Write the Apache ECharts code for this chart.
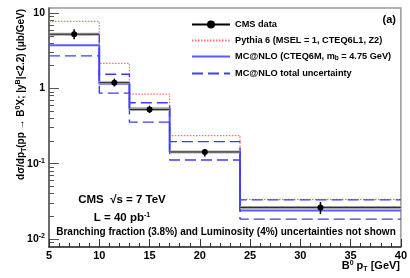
<!DOCTYPE html>
<html><head><meta charset="utf-8">
<script src="https://cdn.jsdelivr.net/npm/echarts@6/dist/echarts.min.js"></script>
<style>html,body{margin:0;padding:0;background:#fff}#c{width:410px;height:278px}</style>
</head><body><div id="c"></div>
<script>
const binEdges = [5, 10, 13, 17, 24, 40];
const dataX = [7.5, 11.5, 15.0, 20.5, 32.0];
const dataY = [5.25, 1.19, 0.525, 0.143, 0.0262];
const dataLow = [4.5, 1.06, 0.47, 0.124, 0.0213];
const dataHigh = [6.1, 1.35, 0.59, 0.157, 0.0309];
const pythia = [7.75, 2.15, 0.84, 0.236, 0.0334];
const mcnlo = [3.74, 1.15, 0.54, 0.143, 0.0239];
const mcnloUp = [5.2, 1.54, 0.645, 0.196, 0.033];
const mcnloDown = [2.7, 0.865, 0.356, 0.112, 0.0183];
const yTickValues = [0.01, 0.1, 1, 10];
const yTickLabels = ['10{sup|-2}', '10{sup|-1}', '1', '10'];
const yRange = [0.0078, 11.7];
const xRange = [5, 40];

const F = '"Liberation Sans", Arial, sans-serif';
const L = v => Math.log10(v);
const names = {
  data: 'CMS data',
  py: 'Pythia 6 (MSEL = 1, CTEQ6L1, Z2)',
  mc: 'MC@NLO (CTEQ6M, m_b = 4.75 GeV)',
  unc: 'MC@NLO total uncertainty'
};
const CLEAR = 'rgba(0,0,0,0)';
function hist(vals) {
  return binEdges.map((x, i) => [x, L(vals[Math.min(i, vals.length - 1)])]);
}
const minorTicks = [];
for (let e = -3; e <= 1; e++) for (let k = 2; k <= 9; k++) {
  const v = k * Math.pow(10, e);
  if (v > yRange[0] && v < yRange[1]) minorTicks.push(L(v));
}
const majorTicks = yTickValues.map(L);
const customData = dataX.map((x, i) => [x, L(dataY[i]), L(dataLow[i]), L(dataHigh[i]), binEdges[i], binEdges[i + 1]]);

const chart = echarts.init(document.getElementById('c'), null, {renderer: 'canvas'});
const supStyle = {fontSize: 7, fontWeight: 'bold', fontFamily: F, color: '#000', padding: [0, 0, 6, 0]};
const subStyle = {fontSize: 7, fontWeight: 'bold', fontFamily: F, color: '#000', padding: [6, 0, 0, 0]};
const legSub = {fontSize: 6.5, fontWeight: 'bold', fontFamily: F, color: '#000', padding: [4, 0, 0, 0]};
function histSeries(name, vals, color, width, type) {
  return {name, type: 'line', step: 'end', data: hist(vals), symbol: 'circle', showSymbol: false,
    lineStyle: {color, width, type}, itemStyle: {color: CLEAR, borderWidth: 0}, emphasis: {disabled: true}};
}
chart.setOption({
  animation: false,
  grid: {left: 49, right: 9, top: 8, bottom: 31, show: true, borderColor: '#999', borderWidth: 1.5, backgroundColor: 'transparent'},
  xAxis: {
    type: 'value', min: xRange[0], max: xRange[1], interval: 5,
    axisLine: {onZero: false, lineStyle: {color: '#333', width: 1.5}},
    axisTick: {inside: true, length: 8, lineStyle: {color: '#333'}},
    minorTick: {show: true, splitNumber: 5, length: 4, lineStyle: {color: '#333'}},
    splitLine: {show: false},
    axisLabel: {color: '#000', fontFamily: F, fontWeight: 'bold', fontSize: 11, margin: 3}
  },
  yAxis: [{
    type: 'value', min: L(yRange[0]), max: L(yRange[1]),
    axisLine: {show: true, onZero: false, lineStyle: {color: '#555', width: 1.5}},
    axisTick: {inside: true, length: 10, customValues: majorTicks, lineStyle: {color: '#555'}},
    splitLine: {show: false},
    axisLabel: {
      customValues: majorTicks, color: '#000', fontFamily: F, fontWeight: 'bold', fontSize: 10.5, margin: 4,
      formatter: v => { const i = majorTicks.findIndex(t => Math.abs(t - v) < 1e-6); return i >= 0 ? yTickLabels[i] : ''; },
      rich: {sup: supStyle}
    }
  }, {
    type: 'value', min: L(yRange[0]), max: L(yRange[1]), position: 'left', offset: 0,
    axisLine: {show: false},
    axisTick: {inside: true, length: 5, customValues: minorTicks, lineStyle: {color: '#555'}},
    axisLabel: {show: false}, splitLine: {show: false}
  }],
  legend: {
    orient: 'vertical', left: 186, top: 15, itemWidth: 38, itemHeight: 10, itemGap: 7,
    data: [names.data, names.py, names.mc, names.unc],
    textStyle: {color: '#000', fontFamily: F, fontWeight: 'bold', fontSize: 9.2, rich: {sub: legSub}},
    formatter: n => n === names.mc ? 'MC@NLO (CTEQ6M, m{sub|b} = 4.75 GeV)' : n
  },
  series: [
    {name: names.data, type: 'line', data: [], symbol: 'circle', symbolSize: 6,
     itemStyle: {color: '#000'}, lineStyle: {color: '#000', width: 1}},
    histSeries(names.py, pythia, '#ff7070', 1.2, [1.5, 1.5]),
    histSeries(names.mc, mcnlo, '#5a5aff', 2, 'solid'),
    histSeries(names.unc, mcnloUp, '#3c3cf5', 1.4, [11, 5]),
    histSeries(names.unc, mcnloDown, '#3c3cf5', 1.4, [11, 5]),
    {name: 'CMS data points', type: 'custom', z: 5, data: customData,
     renderItem: (params, api) => {
       const c = api.coord([api.value(0), api.value(1)]);
       const lo = api.coord([api.value(0), api.value(2)]);
       const hi = api.coord([api.value(0), api.value(3)]);
       const l = api.coord([api.value(4), api.value(1)]);
       const r = api.coord([api.value(5), api.value(1)]);
       return {type: 'group', children: [
         {type: 'line', shape: {x1: l[0], y1: l[1], x2: r[0], y2: r[1]}, style: {stroke: '#aaa', lineWidth: 3}},
         {type: 'line', shape: {x1: l[0], y1: l[1], x2: r[0], y2: r[1]}, style: {stroke: '#222', lineWidth: 1}},
         {type: 'line', shape: {x1: lo[0], y1: lo[1], x2: hi[0], y2: hi[1]}, style: {stroke: '#000', lineWidth: 1.5}},
         {type: 'circle', shape: {cx: c[0], cy: c[1], r: 3}, style: {fill: '#000'}}
       ]};
     }}
  ],
  graphic: [
    {type: 'text', x: 396, y: 20, style: {text: '(a)', fill: '#000', font: 'bold 11px ' + F, textAlign: 'right', textVerticalAlign: 'middle'}},
    {type: 'text', x: 122, y: 200, style: {text: 'CMS  \u221As = 7 TeV', fill: '#000', font: 'bold 11.5px ' + F, textAlign: 'center', textVerticalAlign: 'middle'}},
    {type: 'text', x: 122, y: 218, style: {text: 'L = 40 pb{sup|-1}', rich: {sup: supStyle}, fill: '#000', font: 'bold 11.5px ' + F, textAlign: 'center', textVerticalAlign: 'middle'}},
    {type: 'text', x: 226, y: 232, style: {text: 'Branching fraction (3.8%) and Luminosity (4%) uncertainties not shown', fill: '#000', font: 'bold 10px ' + F, textAlign: 'center', textVerticalAlign: 'middle'}},
    {type: 'text', x: 400, y: 266, style: {text: 'B{sup|0} p{sub|T} [GeV]', rich: {sup: supStyle, sub: subStyle}, fill: '#000', font: 'bold 11px ' + F, textAlign: 'right', textVerticalAlign: 'middle'}},
    {type: 'text', x: 21, y: 9, rotation: Math.PI / 2, style: {text: 'd\u03C3/dp{sub|T}(pp \u2192 B{sup|0}X; |y{sup|B}|<2.2) (\u03BCb/GeV)', rich: {sup: supStyle, sub: subStyle}, fill: '#000', font: 'bold 10px ' + F, textAlign: 'right', textVerticalAlign: 'middle'}}
  ]
});
</script></body></html>
